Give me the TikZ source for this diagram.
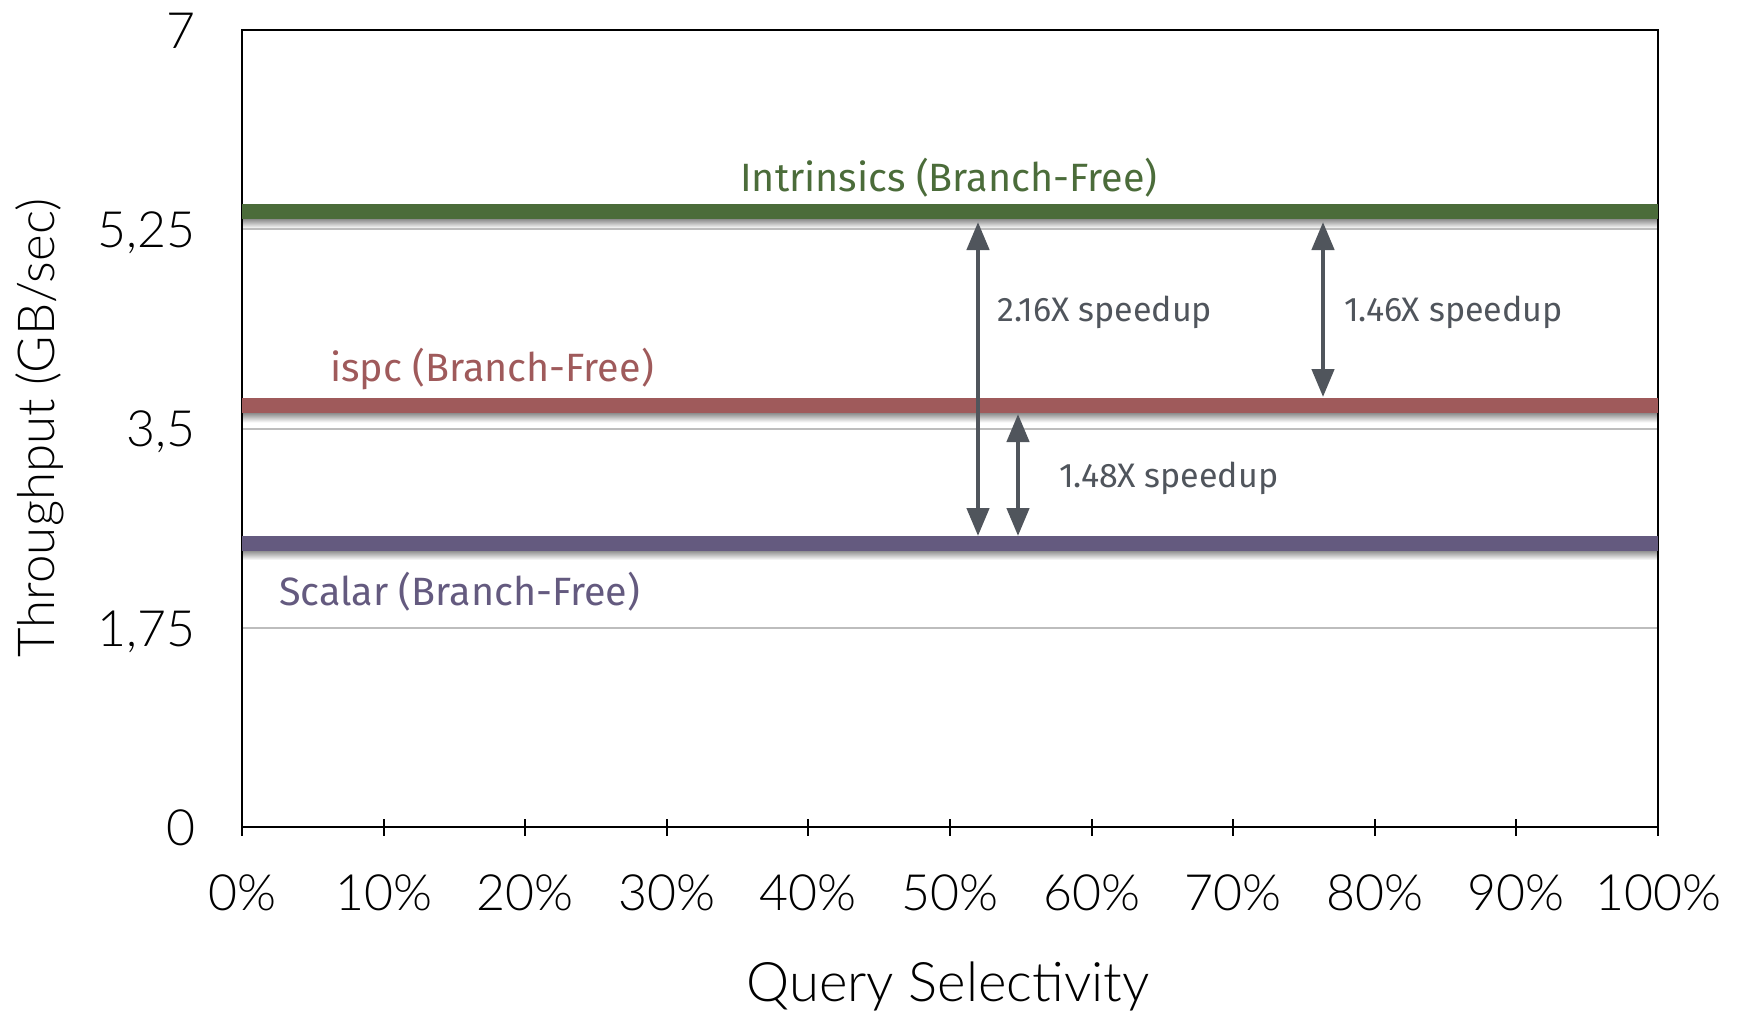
\documentclass[tikz,border=0pt]{standalone}
\usepackage{fontspec}
\usepackage{graphicx}
\usetikzlibrary{arrows.meta}
\IfFontExistsTF{Lato Light}{\newfontfamily\axisfont{Lato Light}}{\newfontfamily\axisfont{TeX Gyre Heros}}
\newfontfamily\serfont{Fira Sans}
\definecolor{cgreen}{HTML}{4B6C3A}
\definecolor{cred}{HTML}{9F5A5B}
\definecolor{cpurple}{HTML}{645A7F}
\definecolor{cgray}{HTML}{50555C}
\definecolor{cgrid}{HTML}{BDBDBD}
\begin{document}
\begin{tikzpicture}[x=1pt,y=-1pt,
  framebox/.style={line width=2.5pt, black},
  gridline/.style={line width=2pt, cgrid},
  seriesline/.style={line width=15pt},
  tickmark/.style={line width=2pt, black},
  ylab/.style={anchor=base east, inner sep=0pt, font=\axisfont\fontsize{50}{50}\selectfont},
  xlab/.style={anchor=base, inner sep=0pt, font=\axisfont\fontsize{50}{50}\selectfont},
  atitle/.style={anchor=base, inner sep=0pt, font=\axisfont\fontsize{54.5}{54.5}\selectfont},
  ytitlestyle/.style={anchor=base, inner sep=0pt, rotate=90, font=\axisfont\fontsize{51}{51}\selectfont},
  serlab/.style={anchor=base west, inner sep=0pt, font=\serfont\fontsize{39.5}{39.5}\selectfont},
  spdlab/.style={anchor=base west, inner sep=0pt, text=cgray, font=\serfont\fontsize{34}{34}\selectfont},
  dblarrow/.style={{Triangle[width=22pt,length=28pt]}-{Triangle[width=22pt,length=28pt]}, line width=4.5pt, draw=cgray}
]
\useasboundingbox (0,0) rectangle (1742,1013);
% shadows under series lines
\foreach \yy in {211.5,405.5,543} {
  \shade[top color=black!45, bottom color=white] (242,\yy+7.5) rectangle (1658,\yy+17);
}
% gridlines
\foreach \v in {1.75,3.5,5.25} {
  \draw[gridline] (242,{827-113.857*\v}) -- (1658,{827-113.857*\v});
}
% frame
\draw[framebox] (242,30) rectangle (1658,827);
% ticks
\foreach \i in {0,...,10} {
  \draw[tickmark] ({242+141.6*\i},819) -- ({242+141.6*\i},836);
}
% series lines
\draw[seriesline, cgreen] (242,211.5) -- (1658,211.5);
\draw[seriesline, cred] (242,405.5) -- (1658,405.5);
\draw[seriesline, cpurple] (242,543) -- (1658,543);
% y labels
\node[ylab] (y7) at (196,48) {7};
\node[ylab] (y525) at (196,247) {5,25};
\node[ylab] (y35) at (196,446) {3,5};
\node[ylab] (y175) at (196,646) {1,75};
\node[ylab] (y0) at (196,845) {0};
% x labels
\foreach \i/\t in {0/0\%,1/10\%,2/20\%,3/30\%,4/40\%,5/50\%,6/60\%,7/70\%,8/80\%,9/90\%,10/100\%} {
  \node[xlab] (x\i) at ({242+141.6*\i},910) {\t};
}
% axis titles
\node[atitle] (xtitle) at (948,1001) {Query Selectivity};
\node[ytitlestyle] (ytitle) at (54,428) {Throughput (GB/sec)};
% series labels
\node[serlab, text=cgreen] (lint) at (740,191) {Intrinsics (Branch-Free)};
\node[serlab, text=cred] (lispc) at (330,381) {ispc (Branch-Free)};
\node[serlab, text=cpurple] (lsca) at (279,605) {Scalar (Branch-Free)};
% speedup labels
\node[spdlab] (s216) at (997,321) {2.16X speedup};
\node[spdlab] (s146) at (1344,321) {1.46X speedup};
\node[spdlab] (s148) at (1059,487) {1.48X speedup};
% arrows
\coordinate (g1) at (978,222);
\coordinate (p1) at (978,536);
\coordinate (g2) at (1323,222);
\coordinate (r2) at (1323,397);
\coordinate (r3) at (1018,414);
\coordinate (p3) at (1018,536);
\draw[dblarrow] (g1) -- (p1);
\draw[dblarrow] (g2) -- (r2);
\draw[dblarrow] (r3) -- (p3);
\end{tikzpicture}
\end{document}
